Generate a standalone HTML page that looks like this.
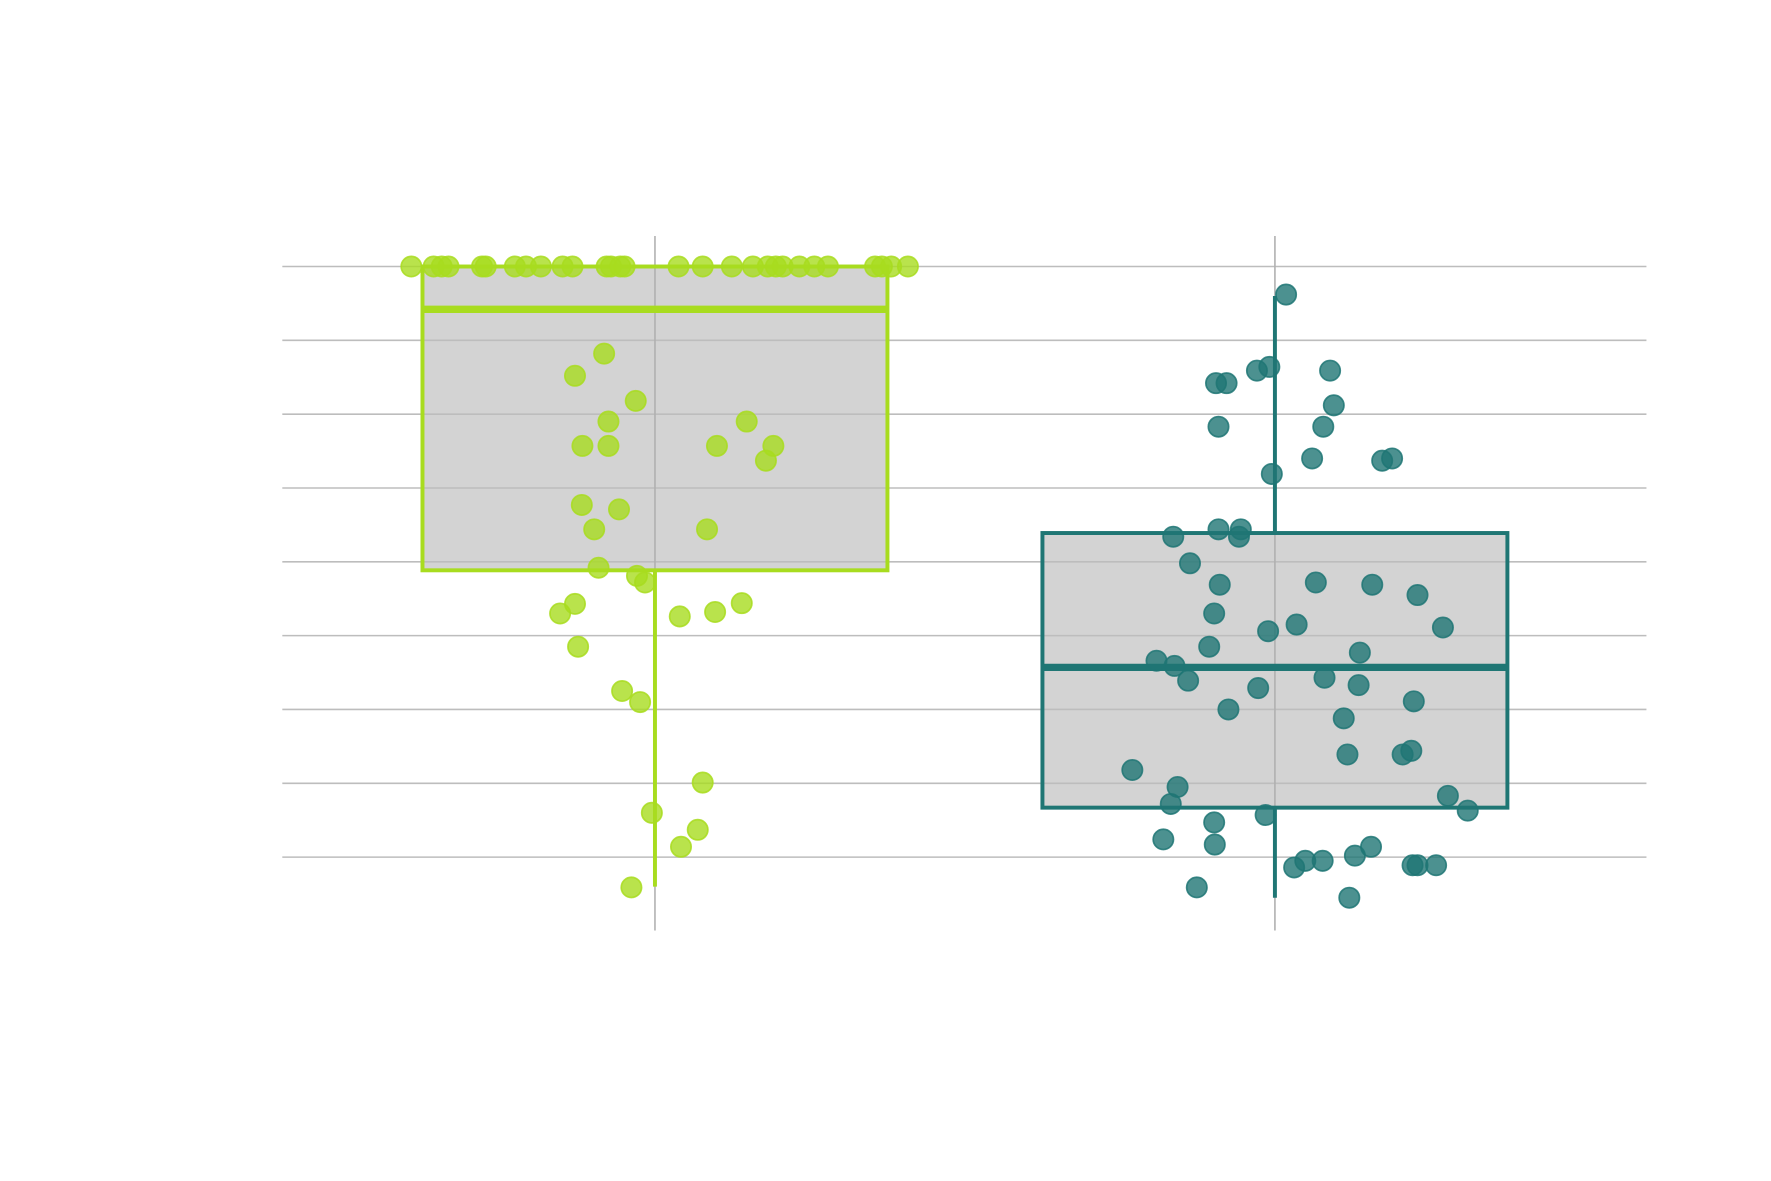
<!DOCTYPE html>
<html><head><meta charset="utf-8"><style>
html,body{margin:0;padding:0;background:#fff;}
svg{display:block;font-family:"Liberation Sans",sans-serif;}
</style></head><body>
<svg id="chart" width="1771" height="1181" viewBox="0 0 1568.3 1045.8" xmlns="http://www.w3.org/2000/svg">
<rect width="1568.3" height="1045.8" fill="#fff"/>
<g id="boxes"></g><g id="grid"></g><g id="outlines"></g><g id="points"></g>
</svg>
<script>
// ---- data ----
const categories = ["A", "B"];
const yTicks = [0, 1, 2, 3, 4, 5, 6, 7, 8];
const boxQ1 = [3.885, 0.67];
const boxMedian = [7.42, 2.57];
const boxQ3 = [8, 4.39];
const whiskerLow = [-0.40, -0.55];
const whiskerHigh = [8, 7.6];
const valuesA = [8,8,8,8,8,8,8,8,8,8,8,8,8,8,8,8,8,8,8,8,8,8,8,8,8,8,8,8,8,
 6.82,6.52,6.18,5.90,5.90,5.57,5.57,5.57,5.57,5.37,4.77,4.71,4.44,4.44,3.92,3.81,3.72,3.43,3.30,3.26,3.32,3.44,2.85,2.25,2.10,1.01,0.60,0.37,0.14,-0.41];
const jitterA = [-0.393,-0.357,-0.344,-0.333,-0.279,-0.273,-0.226,-0.208,-0.184,-0.149,-0.133,-0.078,-0.071,-0.056,-0.049,0.038,0.077,0.124,0.158,0.182,0.195,0.206,0.233,0.257,0.279,0.355,0.366,0.381,0.408,
 -0.082,-0.129,-0.031,-0.075,0.148,-0.117,-0.075,0.100,0.191,0.179,-0.118,-0.058,-0.098,0.084,-0.091,-0.029,-0.016,-0.129,-0.153,0.040,0.097,0.140,-0.124,-0.053,-0.024,0.077,-0.005,0.069,0.042,-0.038];
const valuesB = [7.62,6.42,6.42,6.59,6.64,6.59,6.12,5.83,5.83,5.40,5.37,5.40,5.19,4.34,4.44,4.44,4.34,3.98,3.69,3.72,3.69,3.55,3.30,3.11,3.06,3.15,2.85,2.77,2.66,2.59,2.39,2.43,2.29,2.33,2.11,2.00,1.88,1.39,1.39,1.44,1.18,0.95,0.72,0.83,0.63,0.57,0.47,0.24,0.17,0.14,0.02,-0.05,-0.05,-0.14,-0.11,-0.11,-0.11,-0.41,-0.55];
const jitterB = [0.018,-0.095,-0.078,-0.029,-0.009,0.089,0.095,-0.091,0.078,0.060,0.173,0.189,-0.005,-0.164,-0.091,-0.055,-0.058,-0.137,-0.089,0.066,0.157,0.230,-0.098,0.271,-0.011,0.035,-0.106,0.137,-0.191,-0.162,-0.140,0.080,-0.027,0.135,0.224,-0.075,0.111,0.117,0.206,0.220,-0.230,-0.157,-0.168,0.279,0.311,-0.015,-0.098,-0.180,-0.097,0.155,0.129,0.077,0.049,0.031,0.222,0.230,0.260,-0.126,0.120];

// ---- scales ----
const colors = ["#a8dc1f", "#1f7674"];
const y = v => 759 - v * 65.375;
const x = (i, off) => 580 + (i + (off || 0)) * 549;
const halfBox = 0.375;
const NS = "http://www.w3.org/2000/svg";
function mk(tag, parent, attrs) {
  const e = document.createElementNS(NS, tag);
  for (const k in attrs) e.setAttribute(k, attrs[k]);
  parent.appendChild(e); return e;
}
const gB = document.getElementById("boxes"), gG = document.getElementById("grid"),
      gO = document.getElementById("outlines"), gP = document.getElementById("points");

// grid
yTicks.forEach(t => {
  const l = mk("line", gG, {x1: 250, x2: 1458, y1: y(t), y2: y(t), stroke: "#bdbdbd", "stroke-width": 1.4});
  
  
});
categories.forEach((c, i) => {
  const l = mk("line", gG, {x1: x(i), x2: x(i), y1: 209, y2: 824, stroke: "#b0b0b0", "stroke-width": 1.4});
  
  
});

// boxes
categories.forEach((c, i) => {
  const x0 = x(i, -halfBox), x1 = x(i, halfBox);
  const top = y(boxQ3[i]), bot = y(boxQ1[i]);
  const f = mk("rect", gB, {x: x0, y: top, width: x1 - x0, height: bot - top, fill: "#d3d3d3"});
  
  
  const w1 = mk("line", gO, {x1: x(i), x2: x(i), y1: top, y2: y(whiskerHigh[i]), stroke: colors[i], "stroke-width": 3.5});
  
  
  const w2 = mk("line", gO, {x1: x(i), x2: x(i), y1: bot, y2: y(whiskerLow[i]), stroke: colors[i], "stroke-width": 3.5});
  
  
  const o = mk("rect", gO, {x: x0, y: top, width: x1 - x0, height: bot - top, fill: "none", stroke: colors[i], "stroke-width": 3.5});
  
  
  const m = mk("line", gO, {x1: x0, x2: x1, y1: y(boxMedian[i]), y2: y(boxMedian[i]), stroke: colors[i], "stroke-width": 6.5});
  
  
});

// points
[[valuesA, jitterA], [valuesB, jitterB]].forEach((s, i) => {
  s[0].forEach((v, k) => {
    const p = mk("circle", gP, {cx: x(i, s[1][k]), cy: y(v), r: 9, fill: colors[i], "fill-opacity": 0.8, stroke: colors[i], "stroke-opacity": 0.85, "stroke-width": 1.5});
    
    
  });
});
</script>
</body></html>
